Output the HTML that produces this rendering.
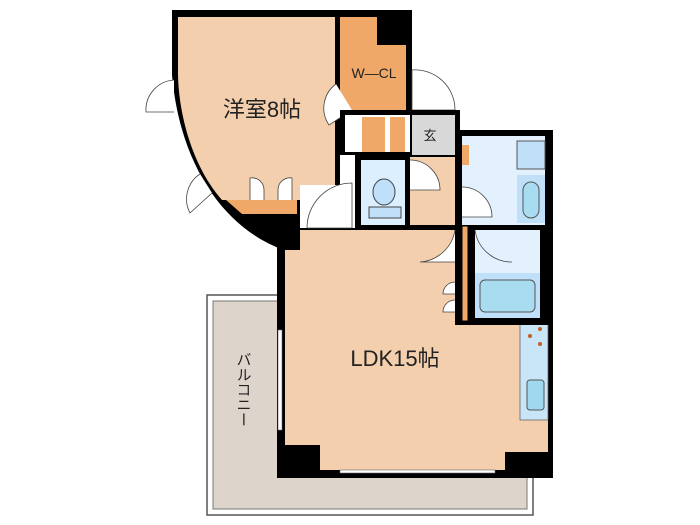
<!DOCTYPE html>
<html><head><meta charset="utf-8"><style>
html,body{margin:0;padding:0;background:#fff;}
svg{display:block;}
text{font-family:"Liberation Sans","Noto Sans CJK JP",sans-serif;fill:#222;}
</style></head><body>
<svg width="700" height="525" viewBox="0 0 700 525" xmlns="http://www.w3.org/2000/svg">
<!-- balcony -->
<rect x="207" y="295" width="326" height="220" fill="#fff" stroke="#555" stroke-width="1.5"/>
<rect x="213" y="301" width="314" height="208" fill="#ddd4cb" stroke="#777" stroke-width="1"/>
<text x="243" y="352" font-size="15" writing-mode="tb" style="writing-mode:vertical-rl" text-anchor="start">バルコニー</text>
<!-- LDK -->
<rect x="277" y="225" width="276" height="253" fill="#000"/>
<path d="M285 230 H457 V322 H548 V470 H285 Z" fill="#f3cfae"/>
<rect x="285" y="445" width="35" height="25" fill="#000"/>
<rect x="505" y="452" width="43" height="18" fill="#000"/>
<rect x="340" y="470" width="155" height="3" fill="#fff" stroke="#666" stroke-width="0.6"/>
<rect x="278" y="330" width="4" height="100" fill="#fff" stroke="#666" stroke-width="0.6"/>
<rect x="520" y="322" width="28" height="98" fill="#c8e6f8" stroke="#666" stroke-width="0.8"/>
<circle cx="540" cy="329" r="2" fill="#c0602a"/><circle cx="530" cy="336" r="2" fill="#c0602a"/><circle cx="540" cy="344" r="2" fill="#c0602a"/>
<rect x="527" y="380" width="17" height="30" rx="3" fill="#9fd8ef" stroke="#555"/>
<text x="395" y="366" font-size="22" text-anchor="middle">LDK15帖</text>
<!-- bedroom -->
<path d="M172 10 H412 V110 H340 V225 H300 V250 L284 250 C232 232 181 175 172 75 Z" fill="#000"/>
<path d="M178 17 H335 V200 H222 C195 170 179 120 178 75 Z" fill="#f3cfae"/>
<path d="M226 200 H297 V214 H242 Z" fill="#f0a868"/>
<rect x="340" y="17" width="66" height="93" fill="#f0a868"/>
<rect x="377" y="17" width="29" height="28" fill="#000"/>
<text x="374" y="78" font-size="14" text-anchor="middle">W—CL</text>
<text x="262" y="117" font-size="22" text-anchor="middle">洋室8帖</text>
<!-- bedroom doors -->
<path d="M174 80 A30 30 0 0 0 146 112 H174" fill="#fff" stroke="#444" stroke-width="0.8"/>
<path d="M200 174 A30 30 0 0 0 190 213 L212 193" fill="#fff" stroke="#444" stroke-width="0.8"/>
<path d="M250 200 V178 A12 12 0 0 1 264 190 V200 M292 200 V178 A12 12 0 0 0 278 190 V200" fill="#fff" stroke="#444" stroke-width="0.8"/>
<path d="M336 84 A30 30 0 0 0 329 125 L352 110" fill="#fff" stroke="#444" stroke-width="0.8"/>
<path d="M412 70 A40 40 0 0 1 455 110 H412 Z" fill="#fff" stroke="#444" stroke-width="0.8"/>
<!-- hallway -->
<path d="M340 110 H460 V230 H297 V225 H355 V155 H340 Z" fill="#000"/>
<path d="M345 115 H410 V152 H345 Z" fill="#fff"/>
<rect x="362" y="117" width="23" height="35" fill="#f0a868"/>
<rect x="390" y="117" width="15" height="35" fill="#f0a868"/>
<rect x="412" y="115" width="43" height="40" fill="#d8d8d8"/>
<text x="430" y="140" font-size="13" text-anchor="middle">玄</text>
<rect x="410" y="157" width="45" height="68" fill="#f3cfae"/>
<rect x="300" y="185" width="55" height="43" fill="#fff"/>
<path d="M307 228 A45 45 0 0 1 352 183 V228 Z" fill="#fff" stroke="#444" stroke-width="0.8"/>
<path d="M410 160 A30 30 0 0 1 440 190 H410" fill="#fff" stroke="#444" stroke-width="0.8"/>
<rect x="361" y="160" width="44" height="65" fill="#dcefff"/>
<ellipse cx="384" cy="192" rx="11" ry="13" fill="#bfe0f8" stroke="#444"/>
<rect x="369" y="207" width="32" height="11" fill="#bfe0f8" stroke="#444"/>
<!-- bath block -->
<rect x="455" y="130" width="98" height="195" fill="#000"/>
<rect x="462" y="136" width="83" height="89" fill="#e2f1fd"/>
<rect x="462" y="145" width="7" height="20" fill="#f0a868"/>
<rect x="517" y="141" width="28" height="28" fill="#bfe0f8" stroke="#555"/>
<rect x="517" y="175" width="28" height="48" fill="#bfe0f8"/>
<rect x="523" y="182" width="16" height="36" rx="8" fill="#a8dcf0" stroke="#555"/>
<path d="M462 187 A30 30 0 0 1 492 217 H462" fill="#fff" stroke="#444" stroke-width="0.8"/>
<rect x="462" y="226" width="6" height="95" fill="#f0a868" stroke="#000"/>
<rect x="475" y="230" width="65" height="88" fill="#e2f1fd"/>
<rect x="475" y="273" width="65" height="45" fill="#bfe0f8"/>
<rect x="480" y="280" width="55" height="32" rx="5" fill="#a8dcf0" stroke="#555"/>
<path d="M475 230 A37 37 0 0 0 512 262" fill="none" stroke="#444" stroke-width="0.8"/>
<path d="M455 230 A38 38 0 0 1 420 262 V262 H455" fill="#fff" stroke="#444" stroke-width="0.8"/>
<path d="M455 282 A12 12 0 0 0 443 294 H455 M455 300 A12 12 0 0 0 443 312 H455" fill="#fff" stroke="#444" stroke-width="0.8"/>
</svg>
</body></html>
